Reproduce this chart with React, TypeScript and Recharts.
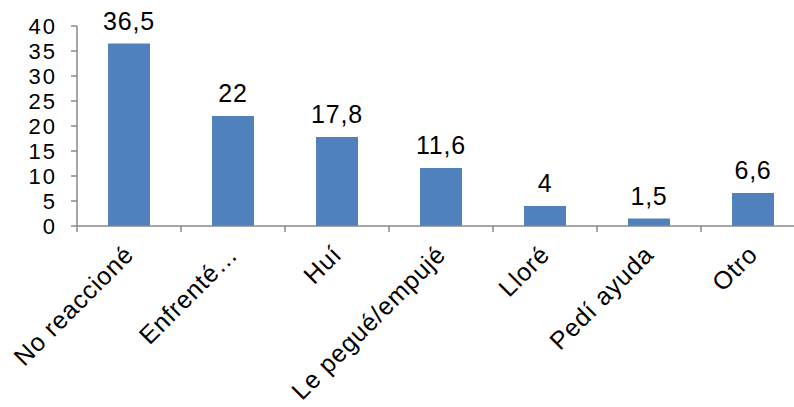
import React from 'react';
import { BarChart, Bar, XAxis, YAxis, LabelList } from 'recharts';

const categories = ['No reaccioné', 'Enfrenté…', 'Huí', 'Le pegué/empujé', 'Lloré', 'Pedí ayuda', 'Otro'];
const values = [36.5, 22, 17.8, 11.6, 4, 1.5, 6.6];
const yTicks = [0, 5, 10, 15, 20, 25, 30, 35, 40];

const data = categories.map((name, i) => ({ name, value: values[i] }));

const FONT = '"Liberation Sans", Arial, sans-serif';
const AXIS_COLOR = '#898989';
const HALF_BAND = 52;
const FS = 25;
const LS = 0.8;

const CategoryTick = (props: any) => {
  const { x, y, payload, index } = props;
  const ty = y + 24;
  return (
    <g>
      <line x1={x - HALF_BAND} y1={y} x2={x - HALF_BAND} y2={y + 6} stroke={AXIS_COLOR} strokeWidth={1.5} />
      {index === categories.length - 1 && (
        <line x1={x + HALF_BAND} y1={y} x2={x + HALF_BAND} y2={y + 6} stroke={AXIS_COLOR} strokeWidth={1.5} />
      )}
      <text
        x={x}
        y={ty}
        dy="0.35em"
        textAnchor="end"
        transform={`rotate(-45, ${x}, ${ty})`}
        fontSize={FS}
        letterSpacing={LS}
        fontFamily={FONT}
        fill="#000"
      >
        {payload.value}
      </text>
    </g>
  );
};

const fmt = (v: any) => String(v).replace('.', ',');

export default function App() {
  return (
    <div style={{ position: 'absolute', left: 0, top: 0, width: 794, height: 407, overflow: 'hidden', background: '#fff' }}>
      <BarChart
        width={810}
        height={407}
        data={data}
        margin={{ top: 26, right: 5, bottom: 0, left: 0 }}
        barCategoryGap={0}
      >
        <XAxis
          dataKey="name"
          height={181}
          interval={0}
          tickSize={0}
          tickMargin={0}
          tickLine={false}
          axisLine={{ stroke: AXIS_COLOR, strokeWidth: 1.5 }}
          tick={<CategoryTick />}
        />
        <YAxis
          width={77}
          domain={[0, 40]}
          ticks={yTicks}
          interval={0}
          tickSize={6}
          tickMargin={14}
          axisLine={{ stroke: AXIS_COLOR, strokeWidth: 1.5 }}
          tickLine={{ stroke: AXIS_COLOR, strokeWidth: 1.5 }}
          tick={{ fontSize: 22, fontFamily: FONT, fill: '#000', letterSpacing: 2 }}
        />
        <Bar dataKey="value" fill="#4F81BD" barSize={42} isAnimationActive={false}>
          <LabelList
            dataKey="value"
            position="top"
            offset={14}
            formatter={fmt}
            style={{ fontSize: FS, fontFamily: FONT, fill: '#000', letterSpacing: LS }}
          />
        </Bar>
      </BarChart>
    </div>
  );
}
